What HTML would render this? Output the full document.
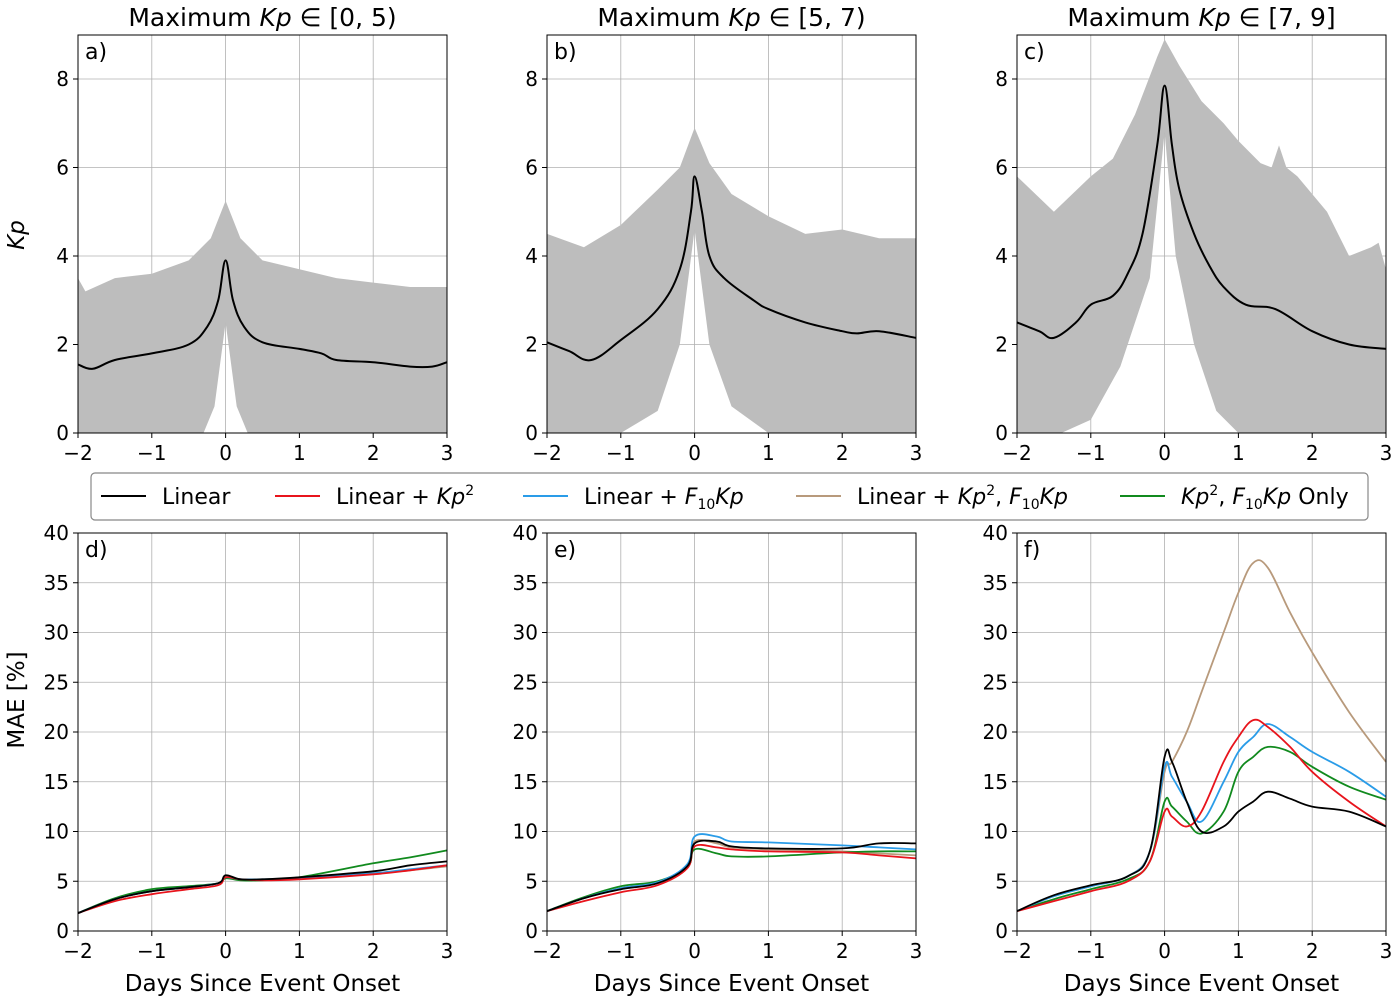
<!DOCTYPE html>
<html><head><meta charset="utf-8"><style>
body{margin:0;background:#fff;font-family:"Liberation Sans","DejaVu Sans",sans-serif}
svg text{font-family:"DejaVu Sans","Liberation Sans",sans-serif;fill:#000}
</style></head><body>
<svg id="c" width="1400" height="1000"></svg>
<script>
// ---- data ----
const xTicks=[-2,-1,0,1,2,3];
const kpTicks=[0,2,4,6,8];
const maeTicks=[0,5,10,15,20,25,30,35,40];
const titles=["Maximum Kp ∈ [0, 5)","Maximum Kp ∈ [5, 7)","Maximum Kp ∈ [7, 9]"];
// panel a
const aMeanD=[-2,-1.8,-1.5,-1,-0.5,-0.25,-0.1,0,0.1,0.25,0.5,1,1.3,1.5,2,2.5,2.8,3];
const aMeanV=[1.55,1.45,1.65,1.8,2.0,2.4,3.0,3.9,3.0,2.4,2.05,1.9,1.8,1.65,1.6,1.5,1.5,1.6];
const aUpD=[-2,-1.9,-1.5,-1,-0.5,-0.2,0,0.2,0.5,1,1.5,2,2.5,3];
const aUpV=[3.5,3.2,3.5,3.6,3.9,4.4,5.25,4.4,3.9,3.7,3.5,3.4,3.3,3.3];
const aLoD=[-2,-0.3,-0.15,0,0.15,0.3,3];
const aLoV=[0,0,0.6,2.5,0.6,0,0];
// panel b
const bMeanD=[-2,-1.7,-1.4,-1,-0.5,-0.2,-0.05,0,0.1,0.2,0.4,0.8,1,1.5,2,2.2,2.5,3];
const bMeanV=[2.05,1.85,1.65,2.1,2.8,3.7,5.0,5.8,5.0,4.0,3.5,3.0,2.8,2.5,2.3,2.25,2.3,2.15];
const bUpD=[-2,-1.5,-1,-0.5,-0.2,0,0.2,0.5,1,1.5,2,2.5,3];
const bUpV=[4.5,4.2,4.7,5.5,6.0,6.9,6.1,5.4,4.9,4.5,4.6,4.4,4.4];
const bLoD=[-2,-1,-0.5,-0.2,0,0.2,0.5,1,3];
const bLoV=[0,0,0.5,2.0,4.6,2.0,0.6,0,0];
// panel c
const cMeanD=[-2,-1.7,-1.5,-1.2,-1,-0.7,-0.5,-0.3,-0.1,0,0.1,0.2,0.4,0.6,0.8,1.1,1.5,2,2.5,3];
const cMeanV=[2.5,2.3,2.15,2.5,2.9,3.1,3.6,4.5,6.5,7.85,6.5,5.5,4.5,3.8,3.3,2.9,2.8,2.3,2.0,1.9];
const cUpD=[-2,-1.5,-1,-0.7,-0.4,-0.1,0,0.2,0.5,0.8,1,1.3,1.45,1.55,1.65,1.8,2.2,2.5,2.8,2.9,3];
const cUpV=[5.8,5.0,5.8,6.2,7.2,8.5,8.9,8.3,7.5,7.0,6.6,6.1,6.0,6.5,6.0,5.8,5.0,4.0,4.2,4.3,3.7];
const cLoD=[-2,-1.4,-1,-0.6,-0.2,0,0.15,0.4,0.7,1,3];
const cLoV=[0,0,0.3,1.5,3.5,6.8,4.0,2.0,0.5,0,0];
// MAE
const seriesColors=["#000000","#e8141c","#2a9ce8","#b89a7c","#118a1e"];
const dDays=[-2,-1.5,-1,-0.5,-0.1,0,0.2,0.5,1,2,2.5,3];
const dLinear=[1.8,3.2,4.0,4.4,4.8,5.6,5.2,5.2,5.4,6.0,6.6,7.0];
const dRed=[1.8,3.0,3.7,4.2,4.6,5.4,5.2,5.1,5.2,5.7,6.1,6.6];
const dBlue=[1.8,3.2,4.0,4.4,4.8,5.4,5.2,5.2,5.3,5.8,6.2,6.6];
const dTan=[1.8,3.2,4.0,4.4,4.8,5.5,5.2,5.2,5.3,5.8,6.1,6.5];
const dGreen=[1.8,3.3,4.2,4.5,4.8,5.3,5.1,5.1,5.4,6.8,7.4,8.1];
const eDays=[-2,-1.5,-1,-0.5,-0.1,0,0.3,0.5,1,2,2.5,3];
const eLinear=[2,3.3,4.2,4.8,6.5,8.8,9.0,8.5,8.3,8.3,8.8,8.8];
const eRed=[2,3.0,3.9,4.6,6.3,8.5,8.4,8.2,8.0,7.9,7.6,7.3];
const eBlue=[2,3.3,4.3,4.9,6.7,9.5,9.5,9.0,8.9,8.6,8.4,8.2];
const eTan=[2,3.3,4.3,4.9,6.6,9.0,8.8,8.4,8.2,8.0,7.8,7.6];
const eGreen=[2,3.4,4.5,5.0,6.4,8.2,7.8,7.5,7.5,7.9,8.0,8.0];
const fDays=[-2,-1.5,-1,-0.5,-0.2,0,0.1,0.3,0.5,0.8,1,1.2,1.4,1.7,2,2.5,3];
const fLinear=[2,3.6,4.6,5.5,8,17.5,17,13,10,10.5,12,13,14,13.3,12.5,12,10.5];
const fRed=[2,3.0,4.0,5.0,7,12,11.5,10.5,12,17,19.5,21.2,20.5,18.5,16,13,10.5];
const fBlue=[2,3.5,4.5,5.5,8,16.5,15.5,13,11,15,18,19.5,20.8,19.5,18,16,13.5];
const fTan=[2,3.5,4.5,5.5,8,16,17,20,24,30,34,37,36.5,32,28,22,17];
const fGreen=[2,3.2,4.2,5.2,7,13,12.5,11,9.8,12,16,17.5,18.5,18,16.5,14.5,13.2];

// ---- drawing ----
const NS="http://www.w3.org/2000/svg";
const svgRoot=document.getElementById('c');
function el(tag,attrs,parent){const e=document.createElementNS(NS,tag);for(const k in attrs)e.setAttribute(k,attrs[k]);(parent||svgRoot).appendChild(e);return e;}
const colsX=[78,547,1017], W=369;
function xs(i){const x0=colsX[i];return d=>x0+(d+2)/5*W;}
function ysTop(v){return 433-v*44.25;}
function ysBot(v){return 931-v*9.95;}
function pathOf(D,V,sx,sy){return D.map((d,k)=>(k?'L':'M')+sx(d).toFixed(1)+','+sy(V[k]).toFixed(1)).join('');}
function smoothOf(D,V,sx,sy){
  const P=D.map((d,k)=>[sx(d),sy(V[k])]);
  let s='M'+P[0][0].toFixed(1)+','+P[0][1].toFixed(1);
  for(let k=0;k<P.length-1;k++){
    const p0=P[Math.max(k-1,0)],p1=P[k],p2=P[k+1],p3=P[Math.min(k+2,P.length-1)];
    const t=0.18;
    const c1=[p1[0]+(p2[0]-p0[0])*t,p1[1]+(p2[1]-p0[1])*t];
    const c2=[p2[0]-(p3[0]-p1[0])*t,p2[1]-(p3[1]-p1[1])*t];
    s+='C'+c1[0].toFixed(1)+','+c1[1].toFixed(1)+' '+c2[0].toFixed(1)+','+c2[1].toFixed(1)+' '+p2[0].toFixed(1)+','+p2[1].toFixed(1);
  }
  return s;
}

function axes(i,isTop,yTicks,sy,letter){
  const sx=xs(i),x0=colsX[i];
  const yT=isTop?35:533, yB=isTop?433:931;
  const g=el('g',{});
  
  
  xTicks.forEach(t=>{el('line',{x1:sx(t),x2:sx(t),y1:yT,y2:yB,stroke:'#b0b0b0','stroke-width':0.8},g);
    el('line',{x1:sx(t),x2:sx(t),y1:yB,y2:yB+5,stroke:'#000'},g);
    const tx=el('text',{x:sx(t),y:yB+27,'text-anchor':'middle','font-size':20},g);tx.textContent=t<0?'−'+(-t):t;});
  yTicks.forEach(t=>{el('line',{x1:x0,x2:x0+W,y1:sy(t),y2:sy(t),stroke:'#b0b0b0','stroke-width':0.8},g);
    el('line',{x1:x0-5,x2:x0,y1:sy(t),y2:sy(t),stroke:'#000'},g);
    const tx=el('text',{x:x0-9,y:sy(t)+7,'text-anchor':'end','font-size':20},g);tx.textContent=t;});
  return {g,sx,x0,yT,yB,letter};
}
function frame(a){
  el('rect',{x:a.x0,y:a.yT,width:W,height:a.yB-a.yT,fill:'none',stroke:'#000','stroke-width':1},a.g);
  const t=el('text',{x:a.x0+7,y:a.yT+24,'font-size':22},a.g);t.textContent=a.letter+')';
}
const topData=[[aMeanD,aMeanV,aUpD,aUpV,aLoD,aLoV],[bMeanD,bMeanV,bUpD,bUpV,bLoD,bLoV],[cMeanD,cMeanV,cUpD,cUpV,cLoD,cLoV]];
topData.forEach((p,i)=>{
  const a=axes(i,true,kpTicks,ysTop,'abc'[i]);
  const band=el('path',{d:pathOf(p[2],p[3],a.sx,ysTop)+pathOf(p[4].slice().reverse(),p[5].slice().reverse(),a.sx,ysTop).replace('M','L')+'Z',fill:'#bdbdbd'},a.g);
  
  
  const ln=el('path',{d:smoothOf(p[0],p[1],a.sx,ysTop),fill:'none',stroke:'#000','stroke-width':2},a.g);
  
  
  frame(a);
  const t=el('text',{x:a.x0+W/2,y:26,'text-anchor':'middle','font-size':25},a.g);
  t.innerHTML=titles[i].replace('Kp','<tspan font-style="italic">Kp</tspan>');
  
  
});
const botData=[[dDays,dLinear,dRed,dBlue,dTan,dGreen],[eDays,eLinear,eRed,eBlue,eTan,eGreen],[fDays,fLinear,fRed,fBlue,fTan,fGreen]];
botData.forEach((p,i)=>{
  const a=axes(i,false,maeTicks,ysBot,'def'[i]);
  [3,4,2,1,0].forEach(s=>{
    const ln=el('path',{d:smoothOf(p[0],p[s+1],a.sx,ysBot),fill:'none',stroke:seriesColors[s],'stroke-width':1.8},a.g);
    
    
  });
  frame(a);
  const t=el('text',{x:a.x0+W/2,y:991,'text-anchor':'middle','font-size':23},a.g);t.textContent='Days Since Event Onset';
  
  
});
// y titles
let yt=el('text',{transform:'translate(24,235) rotate(-90)','text-anchor':'middle','font-size':23,'font-style':'italic'});yt.textContent='Kp';


yt=el('text',{transform:'translate(24,700) rotate(-90)','text-anchor':'middle','font-size':23});yt.textContent='MAE [%]';


// legend
const lg=el('g',{});


el('rect',{x:91,y:473,width:1277,height:47,rx:4,fill:'#fff',stroke:'#888','stroke-width':1.2},lg);
const lx=[101,275,523,796,1120];
const labels=['Linear','Linear + <tspan font-style="italic">Kp</tspan><tspan dy="-9" font-size="14">2</tspan>',
 'Linear + <tspan font-style="italic">F</tspan><tspan dy="5" font-size="14">10</tspan><tspan dy="-5" font-style="italic">Kp</tspan>',
 'Linear + <tspan font-style="italic">Kp</tspan><tspan dy="-9" font-size="14">2</tspan><tspan dy="9">, </tspan><tspan font-style="italic">F</tspan><tspan dy="5" font-size="14">10</tspan><tspan dy="-5" font-style="italic">Kp</tspan>',
 '<tspan font-style="italic">Kp</tspan><tspan dy="-9" font-size="14">2</tspan><tspan dy="9">, </tspan><tspan font-style="italic">F</tspan><tspan dy="5" font-size="14">10</tspan><tspan dy="-5" font-style="italic">Kp</tspan> Only'];
lx.forEach((x,k)=>{
  const e=el('g',{},lg);
  
  
  el('line',{x1:x,x2:x+45,y1:496,y2:496,stroke:seriesColors[k],'stroke-width':2},e);
  const t=el('text',{x:x+61,y:504,'font-size':22},e);t.innerHTML=labels[k];
});
</script>
</body></html>
